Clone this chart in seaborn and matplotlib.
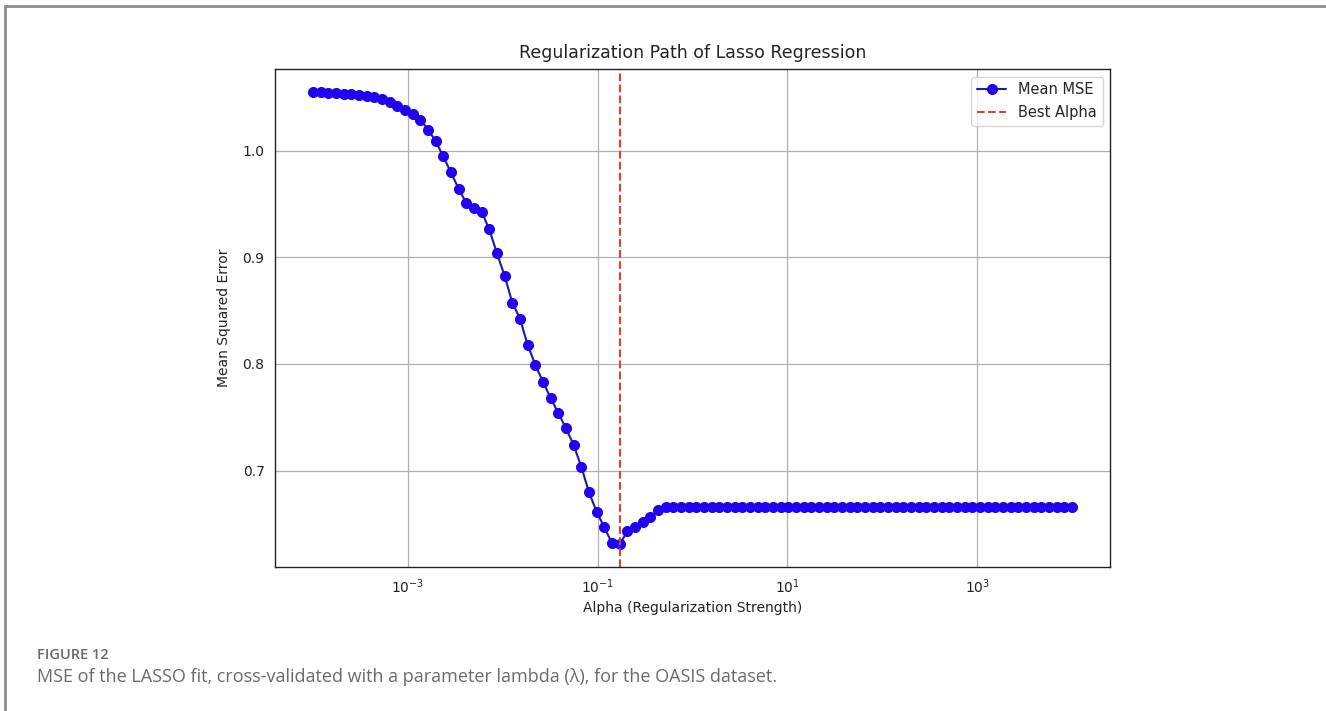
import numpy as np
import matplotlib
matplotlib.use("Agg")
import matplotlib.pyplot as plt
from matplotlib import ticker
import seaborn as sns
import pandas as pd

# Alpha grid of the Lasso path (100 log-spaced values, 1e-4 .. 1e4)
alphas = np.logspace(-4, 4, 100)

# Cross-validated mean MSE for each alpha
mean_mse = [
    1.0553, 1.0553, 1.0547, 1.0544, 1.0538, 1.0534, 1.0525, 1.0516, 1.0506, 1.0485,
    1.0460, 1.0425, 1.0381, 1.0344, 1.0294, 1.0200, 1.0091, 0.9947, 0.9797, 0.9644,
    0.9510, 0.9468, 0.9429, 0.9262, 0.9038, 0.8826, 0.8575, 0.8426, 0.8179, 0.7992,
    0.7832, 0.7680, 0.7539, 0.7398, 0.7239, 0.7036, 0.6795, 0.6614, 0.6467, 0.6318,
    0.6310, 0.6429, 0.6470, 0.6514, 0.6560, 0.6633, 0.6655,
] + [0.6655] * 53

best_alpha = alphas[int(np.argmin(mean_mse))]

x_ticks = [1e-3, 1e-1, 1e1, 1e3]
y_ticks = [0.7, 0.8, 0.9, 1.0]

title = "Regularization Path of Lasso Regression"
xlabel = "Alpha (Regularization Strength)"
ylabel = "Mean Squared Error"
caption_head = "FIGURE 12"
caption_text = "MSE of the LASSO fit, cross-validated with a parameter lambda (\u03bb), for the OASIS dataset."

df = pd.DataFrame({"alpha": alphas, "mse": mean_mse})

sns.set_style("white")
plt.rcParams["font.family"] = ["DejaVu Sans"]

W, H = 1326, 711
fig = plt.figure(figsize=(W / 100, H / 100), dpi=100)

# page frame lines (top and left)
fig.add_artist(plt.Line2D([5 / W, 1.0], [1 - 6 / H, 1 - 6 / H], color="#8c8c8c", lw=2.0,
                          transform=fig.transFigure))
fig.add_artist(plt.Line2D([5 / W, 5 / W], [0.0, 1 - 6 / H], color="#8c8c8c", lw=2.0,
                          transform=fig.transFigure))

ax = fig.add_axes([275 / W, 1 - 566.7 / H, (1110 - 275) / W, (566.7 - 69.3) / H])

sns.lineplot(data=df, x="alpha", y="mse", ax=ax, color="#1f1aa6", marker="o",
             markersize=7.2, markerfacecolor="#2200f0", markeredgecolor="#2200f0",
             linewidth=1.5, label="Mean MSE")
ax.axvline(best_alpha, color="#e2402a", linestyle="--", linewidth=1.5, label="Best Alpha")

ax.set_xscale("log")
ax.margins(x=0.05, y=0.05)
ax.xaxis.set_major_locator(ticker.FixedLocator(x_ticks))
ax.xaxis.set_minor_locator(ticker.NullLocator())
ax.set_yticks(y_ticks)
ax.grid(True, color="#b0b0b0", linewidth=0.9)
ax.set_axisbelow(True)
for s in ax.spines.values():
    s.set_color("#222222")
    s.set_linewidth(1.0)
ax.tick_params(axis="both", which="major", length=4, width=1, labelsize=10, colors="#222222")

ax.set_title(title, fontsize=12.5, color="#222222", pad=8)
ax.set_xlabel(xlabel, fontsize=10, color="#222222", labelpad=4)
ax.set_ylabel(ylabel, fontsize=10, color="#222222", labelpad=8)

leg = ax.legend(loc="upper right", fontsize=10.5, frameon=True, framealpha=0.8,
                edgecolor="#cccccc", fancybox=True)

fig.text(37 / W, 1 - 655 / H, caption_head, fontsize=10.5, color="#6a6a6a", fontweight="semibold",
         family="Open Sans", va="center", ha="left")
fig.text(37 / W, 1 - 677 / H, caption_text, fontsize=13, color="#6a6a6a",
         family="Open Sans", va="center", ha="left")

fig.savefig("out.png", dpi=100)
